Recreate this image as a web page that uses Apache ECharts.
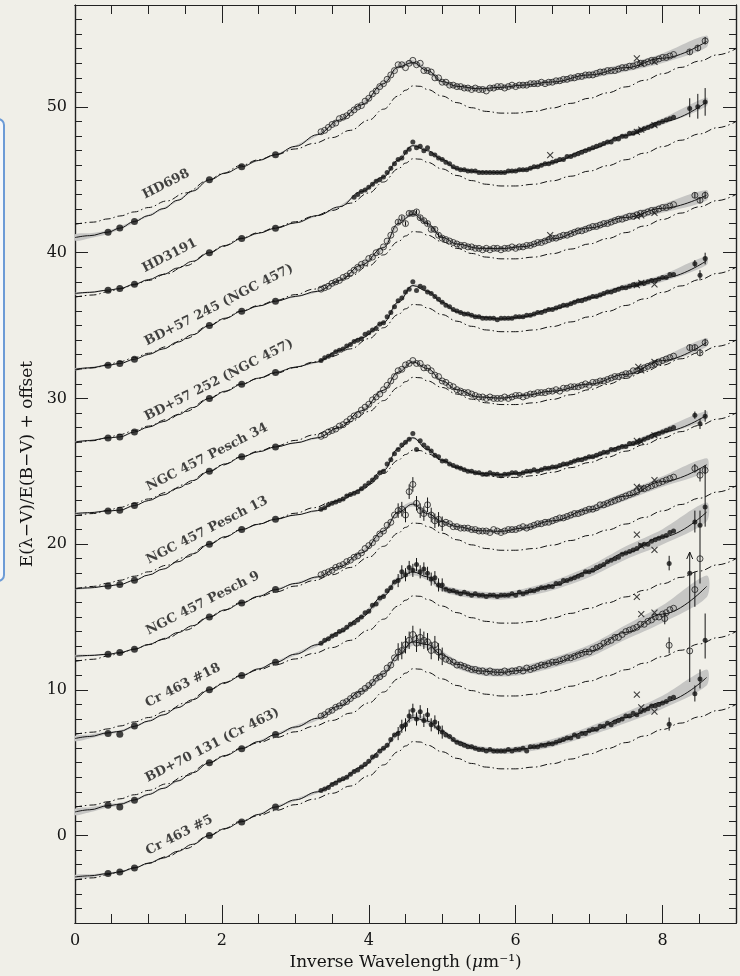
<!DOCTYPE html>
<html>
<head>
<meta charset="utf-8">
<title>Extinction curves</title>
<script src="https://cdn.jsdelivr.net/npm/echarts@6/dist/echarts.min.js"></script>
<style>
  html, body { margin: 0; padding: 0; background: #f0efe8; }
  #chart { width: 740px; height: 976px; }
</style>
</head>
<body>
<div id="chart"></div>
<script>
// stars, bottom to top
const STAR_NAMES = ['Cr 463 #5', 'BD+70 131 (Cr 463)', 'Cr 463 #18', 'NGC 457 Pesch 9', 'NGC 457 Pesch 13',
  'NGC 457 Pesch 34', 'BD+57 252 (NGC 457)', 'BD+57 245 (NGC 457)', 'HD3191', 'HD698']
const OFFSETS = [0, 5, 10, 15, 20, 25, 30, 35, 40, 45]
const OPEN_MARKER = [false, true, false, true, false, true, false, true, false, true]
const LABEL_X = [1.42, 1.87, 1.47, 1.74, 1.80, 1.80, 1.96, 1.96, 1.29, 1.24]
const LABEL_DY = [0.02, 1.2, 0.3, 0.94, 0.95, 0.96, 1.25, 1.4, -0.2, -0.3]

// photometry (JHK, V, B, U)
const PHOT_X = [0.45, 0.61, 0.81, 1.83, 2.27, 2.73]
const PHOT_Y = [
  [-2.61, -2.5, -2.22, 0, 0.93, 1.96],
  [-2.92, -3.04, -2.58, 0, 0.95, 1.93],
  [-3.0, -3.05, -2.48, 0, 0.98, 1.89],
  [-2.56, -2.44, -2.21, 0, 0.96, 1.88],
  [-2.87, -2.77, -2.48, 0, 1.0, 1.71],
  [-2.72, -2.67, -2.35, 0, 0.99, 1.67],
  [-2.71, -2.64, -2.3, 0, 0.97, 1.78],
  [-2.72, -2.6, -2.31, 0, 0.98, 1.67],
  [-2.57, -2.46, -2.16, 0, 0.97, 1.68],
  [-3.59, -3.31, -2.86, 0, 0.9, 1.73]
]

// fitted curves and their uncertainty (half width)
const FIT_X = [0, 0.2, 0.45, 0.61, 0.81, 1.0, 1.2, 1.4, 1.6, 1.83, 2.05, 2.27, 2.5, 2.73,
  3.0, 3.3, 3.6, 3.9, 4.2, 4.4, 4.6, 4.8, 5.0, 5.2, 5.5, 5.8, 6.1, 6.5, 7.0, 7.5, 8.0, 8.6]
const FIT_Y = [
  [-2.84, -2.76, -2.61, -2.5, -2.22, -1.9, -1.54, -1.08, -0.6, 0, 0.49, 0.95, 1.45, 1.96,
   2.45, 3.0, 3.75, 4.7, 5.95, 7.1, 8.1, 7.85, 7.15, 6.45, 5.95, 5.8, 5.95, 6.35, 7.15, 8.1, 9.15, 10.85],
  [-3.38, -3.23, -2.95, -2.85, -2.55, -2.18, -1.76, -1.25, -0.69, 0, 0.5, 0.97, 1.45, 1.93,
   2.45, 3.05, 3.9, 4.9, 6.1, 7.4, 8.3, 8.1, 7.4, 6.75, 6.3, 6.2, 6.35, 6.85, 7.65, 8.95, 10.2, 12.1],
  [-3.34, -3.2, -2.95, -2.85, -2.5, -2.14, -1.72, -1.22, -0.68, 0, 0.51, 0.98, 1.44, 1.89,
   2.45, 3.1, 3.95, 5.0, 6.45, 7.6, 8.1, 7.75, 7.0, 6.7, 6.5, 6.45, 6.65, 7.15, 8.1, 9.4, 10.5, 12.2],
  [-2.69, -2.64, -2.56, -2.44, -2.21, -1.89, -1.53, -1.07, -0.6, 0, 0.5, 0.96, 1.42, 1.88,
   2.3, 2.75, 3.45, 4.4, 5.9, 7.2, 7.75, 7.1, 6.55, 6.2, 5.92, 5.88, 6.1, 6.6, 7.35, 8.3, 9.3, 10.45],
  [-3.07, -3.0, -2.87, -2.77, -2.48, -2.12, -1.71, -1.21, -0.67, 0, 0.52, 1.0, 1.37, 1.71,
   2.0, 2.3, 3.0, 3.75, 5.05, 6.55, 7.3, 6.5, 5.75, 5.25, 4.85, 4.78, 4.9, 5.25, 5.95, 6.75, 7.7, 8.85],
  [-2.9, -2.84, -2.72, -2.67, -2.35, -2.01, -1.62, -1.15, -0.64, 0, 0.51, 0.99, 1.34, 1.67,
   1.95, 2.3, 3.0, 4.15, 5.56, 6.8, 7.5, 7.05, 6.2, 5.6, 5.1, 5.02, 5.2, 5.5, 5.98, 6.65, 7.6, 8.85],
  [-2.99, -2.89, -2.71, -2.64, -2.3, -1.97, -1.59, -1.12, -0.63, 0, 0.5, 0.97, 1.39, 1.78,
   2.15, 2.5, 3.3, 4.15, 5.2, 6.6, 7.75, 7.35, 6.6, 5.95, 5.6, 5.45, 5.6, 6.15, 6.9, 7.65, 8.25, 9.45],
  [-3.0, -2.9, -2.72, -2.6, -2.31, -1.98, -1.6, -1.13, -0.63, 0, 0.51, 0.98, 1.34, 1.67,
   2.0, 2.35, 3.1, 4.15, 5.35, 7.0, 7.65, 7.0, 6.05, 5.6, 5.3, 5.28, 5.42, 5.95, 6.7, 7.42, 8.05, 8.95],
  [-2.8, -2.72, -2.57, -2.46, -2.16, -1.85, -1.49, -1.05, -0.59, 0, 0.5, 0.97, 1.34, 1.68,
   2.05, 2.55, 3.15, 4.2, 5.2, 6.35, 7.35, 7.0, 6.4, 5.75, 5.55, 5.5, 5.68, 6.2, 7.1, 8.05, 9.0, 10.35],
  [-3.96, -3.83, -3.59, -3.31, -2.86, -2.45, -1.98, -1.4, -0.77, 0, 0.47, 0.9, 1.33, 1.73,
   2.3, 3.1, 4.1, 5.15, 6.6, 7.75, 8.05, 7.5, 6.75, 6.42, 6.25, 6.35, 6.5, 6.72, 7.2, 7.7, 8.35, 9.5]
]
const BAND = [
  [0.14, 0.11, 0.08, 0.07, 0.05, 0.04, 0.03, 0.02, 0.01, 0, 0.015, 0.03, 0.045, 0.06,
   0.08, 0.1, 0.12, 0.14, 0.16, 0.18, 0.2, 0.2, 0.2, 0.2, 0.2, 0.21, 0.23, 0.27, 0.32, 0.38, 0.45, 0.55],
  [0.22, 0.17, 0.12, 0.1, 0.08, 0.06, 0.05, 0.04, 0.02, 0, 0.015, 0.03, 0.05, 0.07,
   0.1, 0.13, 0.16, 0.19, 0.22, 0.25, 0.27, 0.28, 0.28, 0.28, 0.28, 0.29, 0.31, 0.35, 0.42, 0.5, 0.6, 0.75],
  [0.18, 0.14, 0.1, 0.08, 0.06, 0.05, 0.04, 0.03, 0.015, 0, 0.015, 0.03, 0.045, 0.06,
   0.09, 0.12, 0.15, 0.18, 0.2, 0.22, 0.24, 0.24, 0.24, 0.24, 0.25, 0.26, 0.28, 0.32, 0.38, 0.45, 0.53, 0.65],
  [0.08, 0.06, 0.05, 0.04, 0.03, 0.025, 0.02, 0.015, 0.01, 0, 0.01, 0.02, 0.03, 0.04,
   0.06, 0.08, 0.1, 0.12, 0.14, 0.15, 0.16, 0.16, 0.15, 0.15, 0.15, 0.16, 0.18, 0.21, 0.25, 0.3, 0.36, 0.45],
  [0.05, 0.045, 0.04, 0.03, 0.02, 0.02, 0.02, 0.015, 0.01, 0, 0.005, 0.01, 0.015, 0.02,
   0.03, 0.05, 0.06, 0.07, 0.08, 0.09, 0.09, 0.09, 0.08, 0.08, 0.08, 0.09, 0.1, 0.12, 0.15, 0.18, 0.22, 0.28],
  [0.06, 0.05, 0.04, 0.03, 0.03, 0.025, 0.02, 0.015, 0.01, 0, 0.005, 0.01, 0.015, 0.02,
   0.04, 0.05, 0.07, 0.08, 0.09, 0.1, 0.1, 0.1, 0.09, 0.09, 0.09, 0.1, 0.11, 0.13, 0.16, 0.2, 0.24, 0.3],
  [0.06, 0.05, 0.04, 0.03, 0.03, 0.025, 0.02, 0.015, 0.01, 0, 0.005, 0.01, 0.015, 0.02,
   0.04, 0.05, 0.07, 0.08, 0.09, 0.1, 0.1, 0.1, 0.09, 0.09, 0.09, 0.1, 0.11, 0.13, 0.16, 0.2, 0.24, 0.3],
  [0.08, 0.065, 0.05, 0.04, 0.03, 0.025, 0.02, 0.015, 0.01, 0, 0.005, 0.01, 0.02, 0.03,
   0.05, 0.07, 0.09, 0.11, 0.12, 0.13, 0.14, 0.14, 0.13, 0.13, 0.13, 0.14, 0.15, 0.18, 0.22, 0.26, 0.3, 0.36],
  [0.06, 0.05, 0.04, 0.04, 0.03, 0.025, 0.02, 0.015, 0.01, 0, 0.005, 0.01, 0.015, 0.02,
   0.03, 0.05, 0.06, 0.07, 0.08, 0.08, 0.09, 0.09, 0.08, 0.08, 0.08, 0.09, 0.1, 0.12, 0.15, 0.18, 0.22, 0.3],
  [0.22, 0.17, 0.12, 0.1, 0.08, 0.07, 0.06, 0.05, 0.04, 0, 0.01, 0.02, 0.03, 0.04,
   0.06, 0.08, 0.1, 0.12, 0.13, 0.14, 0.15, 0.15, 0.15, 0.15, 0.15, 0.16, 0.17, 0.2, 0.24, 0.28, 0.33, 0.4]
]

// average Galactic curve (dash-dot), same for every star
const BASE_X = [0, 0.25, 0.45, 0.61, 0.81, 1.0, 1.25, 1.5, 1.83, 2.0, 2.27, 2.5, 2.73, 3.0, 3.25, 3.5, 3.75, 4.0, 4.2, 4.4, 4.5, 4.6, 4.7, 4.8,
  5.0, 5.2, 5.4, 5.6, 5.8, 6.0, 6.25, 6.5, 6.75, 7.0, 7.25, 7.5, 7.75, 8.0, 8.25, 8.5, 8.75, 9.0]
const BASE_Y = [-3.05, -2.9, -2.68, -2.48, -2.2, -1.9, -1.45, -0.9, 0, 0.42, 1.0, 1.38, 1.72, 2.12, 2.5, 2.9, 3.4, 4.1, 4.85, 5.75, 6.15, 6.45, 6.42, 6.2,
  5.75, 5.3, 4.95, 4.7, 4.58, 4.58, 4.7, 4.93, 5.25, 5.6, 5.97, 6.38, 6.83, 7.28, 7.72, 8.15, 8.58, 9.0]

// IUE spectra
const UV_X = [
  3.35, 3.40, 3.45, 3.50, 3.55, 3.60, 3.65, 3.70, 3.75, 3.80,
  3.85, 3.90, 3.95, 4.00, 4.05, 4.10, 4.15, 4.20, 4.25, 4.30,
  4.35, 4.40, 4.45, 4.50, 4.55, 4.60, 4.65, 4.70, 4.75, 4.80,
  4.85, 4.90, 4.95, 5.00, 5.05, 5.10, 5.15, 5.20, 5.25, 5.30,
  5.35, 5.40, 5.45, 5.50, 5.55, 5.60, 5.65, 5.70, 5.75, 5.80,
  5.85, 5.90, 5.95, 6.00, 6.05, 6.10, 6.15, 6.20, 6.25, 6.30,
  6.35, 6.40, 6.45, 6.50, 6.55, 6.60, 6.65, 6.70, 6.75, 6.80,
  6.85, 6.90, 6.95, 7.00, 7.05, 7.10, 7.15, 7.20, 7.25, 7.30,
  7.35, 7.40, 7.45, 7.50, 7.55, 7.60, 7.65, 7.70, 7.75, 7.80,
  7.85, 7.90, 7.95, 8.00, 8.05, 8.10, 8.15
]
const UV_Y = [
  [3.1, 3.2, 3.3, 3.5, 3.6, 3.8, 3.9, 4.0, 4.2, 4.4,
   4.5, 4.7, 4.9, 5.1, 5.4, 5.5, 5.8, 6.0, 6.2, 6.6,
   6.9, 7.0, 7.5, 7.6, 8.2, 8.6, 8.0, 8.5, 7.9, 8.3,
   7.6, 7.8, 7.4, 7.1, 6.9, 6.8, 6.6, 6.4, 6.3, 6.2,
   6.1, 6.1, 6.0, 5.9, 5.9, 5.8, 5.9, 5.8, 5.8, 5.8,
   5.8, 5.9, 5.8, 5.9, 5.9, 6.0, 5.8, 6.1, 6.1, 6.1,
   6.2, 6.2, 6.3, 6.3, 6.4, 6.5, 6.6, 6.7, 6.7, 6.9,
   6.8, 7.0, 7.0, 7.2, 7.3, 7.3, 7.5, 7.5, 7.7, 7.6,
   7.8, 7.9, 8.0, 8.2, 8.2, 8.4, 8.3, 8.5, 8.6, 8.7,
   8.9, 8.9, 9.0, 9.1, 9.2, 9.4, 9.5],
  [3.2, 3.3, 3.5, 3.6, 3.8, 3.9, 4.1, 4.2, 4.4, 4.6,
   4.7, 4.9, 5.1, 5.3, 5.5, 5.8, 5.9, 6.1, 6.5, 6.7,
   7.2, 7.6, 7.7, 8.1, 8.4, 8.8, 8.2, 8.6, 8.4, 8.3,
   7.7, 8.1, 7.6, 7.3, 7.1, 7.0, 6.9, 6.7, 6.7, 6.6,
   6.5, 6.4, 6.4, 6.3, 6.3, 6.2, 6.3, 6.2, 6.2, 6.2,
   6.3, 6.2, 6.3, 6.3, 6.4, 6.3, 6.5, 6.4, 6.5, 6.6,
   6.7, 6.7, 6.8, 6.9, 6.9, 7.0, 7.1, 7.2, 7.2, 7.3,
   7.4, 7.5, 7.6, 7.6, 7.8, 7.9, 8.0, 8.2, 8.3, 8.4,
   8.6, 8.6, 8.8, 9.0, 9.1, 9.2, 9.3, 9.5, 9.5, 9.7,
   9.8, 10.0, 10.0, 10.2, 10.3, 10.5, 10.6],
  [3.2, 3.4, 3.5, 3.7, 3.8, 4.0, 4.1, 4.3, 4.5, 4.6,
   4.8, 5.0, 5.3, 5.4, 5.8, 5.9, 6.3, 6.4, 6.8, 7.0,
   7.4, 7.5, 8.1, 7.9, 8.4, 8.2, 8.6, 8.1, 8.3, 8.0,
   7.6, 7.7, 7.2, 7.2, 6.9, 6.8, 6.8, 6.7, 6.6, 6.7,
   6.6, 6.5, 6.6, 6.5, 6.5, 6.4, 6.5, 6.5, 6.4, 6.5,
   6.5, 6.5, 6.6, 6.5, 6.7, 6.6, 6.7, 6.8, 6.8, 6.9,
   7.0, 7.0, 7.1, 7.1, 7.3, 7.3, 7.5, 7.5, 7.6, 7.7,
   7.8, 7.9, 8.1, 8.1, 8.2, 8.4, 8.5, 8.6, 8.8, 8.9,
   9.0, 9.1, 9.3, 9.4, 9.5, 9.6, 9.7, 9.9, 10.0, 10.0,
   10.2, 10.3, 10.4, 10.5, 10.6, 10.8, 10.9],
  [2.9, 3.0, 3.1, 3.2, 3.4, 3.5, 3.6, 3.8, 3.9, 4.1,
   4.2, 4.4, 4.7, 4.9, 5.1, 5.4, 5.7, 5.9, 6.3, 6.5,
   7.0, 7.3, 7.4, 7.0, 8.6, 9.1, 7.8, 7.3, 7.1, 7.7,
   7.0, 6.6, 6.7, 6.4, 6.5, 6.4, 6.2, 6.2, 6.1, 6.1,
   6.1, 6.0, 6.0, 5.9, 5.9, 5.9, 5.8, 6.0, 5.9, 5.8,
   5.9, 6.0, 6.0, 6.0, 6.1, 6.2, 6.1, 6.2, 6.3, 6.4,
   6.4, 6.5, 6.5, 6.6, 6.7, 6.8, 6.8, 6.9, 7.0, 7.1,
   7.1, 7.2, 7.3, 7.4, 7.4, 7.5, 7.7, 7.7, 7.8, 7.9,
   8.0, 8.1, 8.2, 8.3, 8.4, 8.5, 8.6, 8.8, 8.8, 8.9,
   9.0, 9.1, 9.2, 9.3, 9.4, 9.5, 9.6],
  [2.4, 2.5, 2.7, 2.8, 2.9, 3.0, 3.1, 3.3, 3.4, 3.5,
   3.6, 3.8, 4.0, 4.2, 4.4, 4.6, 4.9, 5.0, 5.5, 5.8,
   6.2, 6.5, 6.8, 7.0, 7.2, 7.6, 6.5, 7.1, 6.8, 6.6,
   6.4, 6.1, 6.0, 5.7, 5.7, 5.5, 5.4, 5.3, 5.2, 5.1,
   5.0, 5.0, 4.9, 4.9, 4.8, 4.8, 4.9, 4.8, 4.8, 4.7,
   4.8, 4.8, 4.9, 4.9, 4.8, 4.9, 5.0, 5.0, 5.1, 5.0,
   5.1, 5.2, 5.2, 5.3, 5.3, 5.4, 5.5, 5.5, 5.6, 5.7,
   5.8, 5.8, 5.9, 6.0, 6.0, 6.1, 6.2, 6.3, 6.3, 6.5,
   6.5, 6.6, 6.7, 6.7, 6.9, 6.9, 7.0, 7.1, 7.2, 7.3,
   7.4, 7.5, 7.6, 7.7, 7.8, 7.9, 8.0],
  [2.4, 2.5, 2.7, 2.8, 2.9, 3.1, 3.2, 3.4, 3.6, 3.8,
   3.9, 4.2, 4.4, 4.6, 4.9, 5.1, 5.3, 5.6, 5.9, 6.2,
   6.5, 6.9, 7.0, 7.3, 7.4, 7.6, 7.4, 7.4, 7.1, 7.1,
   6.9, 6.6, 6.5, 6.2, 6.1, 5.9, 5.8, 5.6, 5.5, 5.4,
   5.4, 5.3, 5.2, 5.1, 5.1, 5.0, 5.1, 5.0, 5.0, 5.0,
   5.1, 5.0, 5.1, 5.2, 5.2, 5.1, 5.2, 5.3, 5.3, 5.4,
   5.4, 5.4, 5.5, 5.5, 5.6, 5.5, 5.7, 5.7, 5.8, 5.8,
   5.8, 5.9, 6.0, 5.9, 6.1, 6.1, 6.2, 6.2, 6.3, 6.4,
   6.5, 6.5, 6.6, 6.7, 6.7, 6.9, 6.9, 7.0, 7.1, 7.2,
   7.3, 7.4, 7.5, 7.6, 7.7, 7.8, 7.9],
  [2.6, 2.8, 2.9, 3.0, 3.2, 3.3, 3.4, 3.6, 3.7, 3.9,
   4.0, 4.1, 4.4, 4.5, 4.7, 4.8, 5.1, 5.2, 5.6, 5.9,
   6.3, 6.7, 6.9, 7.3, 7.5, 8.0, 7.4, 7.7, 7.6, 7.3,
   7.2, 7.0, 6.8, 6.6, 6.4, 6.3, 6.1, 6.0, 5.9, 5.8,
   5.8, 5.7, 5.6, 5.6, 5.5, 5.5, 5.5, 5.5, 5.4, 5.5,
   5.5, 5.5, 5.5, 5.6, 5.6, 5.6, 5.7, 5.7, 5.8, 5.9,
   5.9, 6.0, 6.1, 6.1, 6.2, 6.3, 6.4, 6.4, 6.5, 6.6,
   6.7, 6.7, 6.8, 6.9, 7.0, 7.0, 7.1, 7.2, 7.3, 7.3,
   7.4, 7.5, 7.6, 7.6, 7.7, 7.8, 7.8, 7.9, 7.9, 8.0,
   8.1, 8.1, 8.2, 8.3, 8.3, 8.5, 8.5],
  [2.5, 2.6, 2.7, 2.9, 3.0, 3.1, 3.3, 3.4, 3.6, 3.8,
   4.0, 4.2, 4.3, 4.6, 4.7, 5.0, 5.1, 5.4, 5.8, 6.2,
   6.6, 7.1, 7.4, 7.0, 7.7, 7.7, 7.8, 7.4, 7.2, 7.0,
   6.6, 6.6, 6.2, 6.0, 5.9, 5.8, 5.7, 5.6, 5.5, 5.5,
   5.4, 5.4, 5.3, 5.3, 5.2, 5.3, 5.2, 5.3, 5.3, 5.2,
   5.3, 5.3, 5.4, 5.3, 5.4, 5.4, 5.5, 5.5, 5.6, 5.7,
   5.7, 5.8, 5.9, 6.0, 6.0, 6.1, 6.2, 6.2, 6.3, 6.4,
   6.5, 6.5, 6.6, 6.7, 6.8, 6.8, 6.9, 7.0, 7.0, 7.1,
   7.2, 7.3, 7.3, 7.4, 7.5, 7.5, 7.6, 7.7, 7.7, 7.8,
   7.9, 7.9, 8.0, 8.1, 8.1, 8.2, 8.3],
  [null, null, null, null, null, null, null, null, null, 3.8,
   4.0, 4.2, 4.3, 4.5, 4.7, 4.9, 5.0, 5.2, 5.5, 5.8,
   6.1, 6.4, 6.5, 6.9, 7.1, 7.6, 7.2, 7.3, 7.0, 7.2,
   6.8, 6.7, 6.5, 6.4, 6.2, 6.1, 5.9, 5.8, 5.7, 5.7,
   5.6, 5.6, 5.6, 5.5, 5.5, 5.5, 5.5, 5.5, 5.5, 5.5,
   5.5, 5.6, 5.6, 5.6, 5.7, 5.7, 5.7, 5.8, 5.9, 5.9,
   6.0, 6.1, 6.1, 6.2, 6.3, 6.4, 6.4, 6.6, 6.6, 6.7,
   6.8, 6.9, 7.0, 7.1, 7.2, 7.3, 7.4, 7.5, 7.6, 7.6,
   7.8, 7.8, 8.0, 8.0, 8.2, 8.2, 8.3, 8.4, 8.5, 8.6,
   8.7, 8.8, 8.9, 9.0, 9.1, 9.2, 9.3],
  [3.3, 3.4, 3.6, 3.8, 3.9, 4.2, 4.3, 4.4, 4.6, 4.8,
   5.0, 5.1, 5.4, 5.6, 5.9, 6.1, 6.4, 6.6, 6.9, 7.2,
   7.5, 7.9, 7.9, 7.7, 8.0, 8.2, 7.9, 8.0, 7.5, 7.5,
   7.4, 7.0, 7.0, 6.7, 6.7, 6.5, 6.5, 6.4, 6.4, 6.3,
   6.3, 6.2, 6.3, 6.2, 6.2, 6.1, 6.3, 6.3, 6.4, 6.4,
   6.3, 6.4, 6.5, 6.4, 6.5, 6.5, 6.5, 6.6, 6.6, 6.6,
   6.7, 6.6, 6.7, 6.7, 6.8, 6.8, 6.9, 6.9, 7.0, 7.0,
   7.1, 7.1, 7.2, 7.2, 7.2, 7.3, 7.4, 7.4, 7.5, 7.5,
   7.5, 7.6, 7.7, 7.7, 7.8, 7.8, 7.9, 8.0, 8.0, 8.1,
   8.2, 8.2, 8.3, 8.4, 8.4, 8.5, 8.6]
]
// error bar half-width on the 2175 A bump points (4.4 - 5.0)
const BUMP_ERR = [0.45, 0.6, 0.45, 0.5, 0, 0, 0, 0.15, 0, 0]

// far-UV points: [x, y, low, high, arrow]
const FAR_POINTS = [
  [[8.09, 7.64, 7.2, 8.1], [8.44, 9.74, 9.2, 10.3], [8.51, 10.75, 10.1, 11.4], [8.58, 13.4, 12.15, 15.24]],
  [[8.03, 9.89, 9.5, 10.3], [8.09, 8.06, 7.5, 8.6], [8.37, 7.67, 5.54, 14.46, 1], [8.44, 11.88, 10.7, 13.1], [8.51, 14.0, 12.3, 17.3]],
  [[8.09, 8.67, 8.2, 9.2], [8.37, 8.0, null, null], [8.44, 11.52, 10.8, 12.3], [8.51, 11.3, null, null], [8.58, 12.55, 11.2, 15.4]],
  [[8.44, 10.19, 9.9, 10.5], [8.51, 9.73, 9.3, 10.2], [8.58, 10.07, 9.8, 10.4]],
  [[8.44, 8.85, 8.6, 9.1], [8.51, 8.27, 7.9, 8.6], [8.58, 8.78, 8.4, 9.2]],
  [[8.37, 8.49, 8.3, 8.7], [8.44, 8.49, 8.3, 8.7], [8.51, 8.13, 7.9, 8.4], [8.58, 8.83, 8.6, 9.1]],
  [[8.44, 9.25, 9.0, 9.5], [8.51, 8.45, 8.1, 8.8], [8.58, 9.6, 9.2, 10.0]],
  [[8.44, 8.94, 8.75, 9.15], [8.51, 8.6, 8.4, 8.8], [8.58, 8.94, 8.7, 9.2]],
  [[8.37, 9.9, 9.3, 10.6], [8.48, 10.01, 9.2, 10.9], [8.58, 10.35, 9.4, 11.3]],
  [[8.37, 8.78, 8.6, 8.95], [8.48, 9.05, 8.85, 9.25], [8.58, 9.54, 9.3, 9.8]]
]
// second data set, drawn as crosses
const CROSSES = [
  [[7.65, 9.67], [7.71, 8.8], [7.89, 8.5]],
  [[7.65, 11.38], [7.71, 10.2], [7.89, 10.3]],
  [[7.65, 10.66], [7.71, 9.9], [7.89, 9.6]],
  [[7.65, 8.93], [7.71, 8.86], [7.89, 9.39]],
  [[7.65, 7.09], [7.71, 7.02], [7.89, 7.47]],
  [[7.67, 7.16], [7.71, 6.93], [7.89, 7.5]],
  [[7.65, 7.77], [7.71, 7.93], [7.89, 7.82]],
  [[6.47, 6.2], [7.65, 7.5], [7.71, 7.57], [7.89, 7.73]],
  [[6.47, 6.69], [7.65, 8.3], [7.71, 8.45], [7.89, 8.75]],
  [[7.65, 8.33], [7.71, 7.98], [7.89, 8.1]]
]

const X_MAJOR = [0, 2, 4, 6, 8]
const X_MINOR = [0.5, 1, 1.5, 2.5, 3, 3.5, 4.5, 5, 5.5, 6.5, 7, 7.5, 8.5]
const Y_MAJOR = [0, 10, 20, 30, 40, 50]
const Y_MINOR = []
for (let v = -5; v <= 56; v++) if (v % 10 !== 0) Y_MINOR.push(v)

const INK = '#141414'
const SERIF = 'DejaVu Serif'

const pairs = (xs, ys, off) => {
  const out = []
  xs.forEach((x, k) => { if (ys[k] != null) out.push([x, ys[k] + off]) })
  return out
}

// grey uncertainty bands, one polygon per star
const bandSeries = {
  type: 'custom',
  xAxisIndex: 0,
  yAxisIndex: 0,
  silent: true,
  z: 1,
  data: STAR_NAMES.map((n, i) => [i]),
  encode: { x: 0 },
  renderItem: (params, api) => {
    const i = api.value(0)
    const off = OFFSETS[i]
    const upper = FIT_X.map((x, k) => api.coord([x, off + FIT_Y[i][k] + BAND[i][k]]))
    const lower = FIT_X.map((x, k) => api.coord([x, off + FIT_Y[i][k] - BAND[i][k]])).reverse()
    return {
      type: 'polygon',
      shape: { points: upper.concat(lower), smooth: 0.3 },
      style: { fill: '#c6c6c4', stroke: null }
    }
  }
}

const errorBars = {
  type: 'custom',
  xAxisIndex: 0,
  yAxisIndex: 0,
  z: 4,
  silent: true,
  renderItem: (params, api) => {
    const a = api.coord([api.value(0), api.value(1)])
    const b = api.coord([api.value(0), api.value(2)])
    const children = [{
      type: 'line',
      shape: { x1: a[0], y1: a[1], x2: b[0], y2: b[1] },
      style: { stroke: INK, lineWidth: 1 }
    }]
    if (api.value(3)) {
      children.push({
        type: 'polyline',
        shape: { points: [[b[0] - 3, b[1] + 7], [b[0], b[1]], [b[0] + 3, b[1] + 7]] },
        style: { stroke: INK, lineWidth: 1, fill: null }
      })
    }
    return { type: 'group', children }
  },
  encode: { x: 0, y: [1, 2] },
  data: []
}

const series = [bandSeries]
const labelData = []

STAR_NAMES.forEach((name, i) => {
  const off = OFFSETS[i]
  const smoothLine = { type: 'line', symbol: 'none', smooth: 0.4, smoothMonotone: 'x', silent: true, xAxisIndex: 0, yAxisIndex: 0 }

  // dash-dot average curve
  series.push(Object.assign({}, smoothLine, {
    data: pairs(BASE_X, BASE_Y, off),
    lineStyle: { color: INK, width: 1, type: [7, 3, 1.5, 3] },
    z: 2
  }))
  // fit
  series.push(Object.assign({}, smoothLine, {
    data: pairs(FIT_X, FIT_Y[i], off),
    lineStyle: { color: INK, width: 1 },
    z: 3
  }))

  const pointStyle = OPEN_MARKER[i]
    ? { color: 'rgba(0,0,0,0.07)', borderColor: '#222', borderWidth: 1 }
    : { color: INK }
  const pointSize = OPEN_MARKER[i] ? 6 : 5

  series.push({
    type: 'scatter', silent: true, z: 5,
    symbolSize: pointSize, itemStyle: pointStyle,
    data: pairs(UV_X, UV_Y[i], off).concat(FAR_POINTS[i].map(p => [p[0], p[1] + off]))
  })
  series.push({
    type: 'scatter', silent: true, z: 5,
    symbolSize: 7, itemStyle: { color: INK },
    data: pairs(PHOT_X, PHOT_Y[i], off)
  })
  series.push({
    type: 'scatter', silent: true, z: 5,
    symbol: 'path://M0 0L10 10M10 0L0 10', symbolSize: 6,
    itemStyle: { color: 'none', borderColor: INK, borderWidth: 1.1 },
    data: CROSSES[i].map(p => [p[0], p[1] + off])
  })

  if (BUMP_ERR[i] > 0) {
    UV_X.forEach((x, k) => {
      const y = UV_Y[i][k]
      if (y != null && x >= 4.39 && x <= 5.01) {
        errorBars.data.push([x, y + off - BUMP_ERR[i], y + off + BUMP_ERR[i], 0])
      }
    })
  }
  FAR_POINTS[i].forEach(p => {
    if (p[2] != null) errorBars.data.push([p[0], p[2] + off, p[3] + off, p[4] ? 1 : 0])
  })

  labelData.push({ value: [LABEL_X[i], off + LABEL_DY[i]], name })
})

series.push(errorBars)
series.push({
  type: 'scatter',
  silent: true,
  symbolSize: 0,
  z: 6,
  data: labelData,
  label: {
    show: true,
    position: 'inside',
    formatter: p => p.name,
    rotate: 27,
    fontFamily: SERIF,
    fontWeight: 'bold',
    fontSize: 13,
    color: INK
  }
})

const axisLine = { show: true, onZero: false, lineStyle: { color: '#222', width: 1.2 } }
const tickStyle = { color: '#222', width: 1 }

const xAxis = (position, values, len, labels) => ({
  type: 'value', min: 0, max: 9, position,
  axisLine,
  splitLine: { show: false },
  axisTick: { show: true, inside: true, length: len, customValues: values, lineStyle: tickStyle },
  axisLabel: labels
    ? { show: true, customValues: values, margin: 10, fontFamily: SERIF, fontSize: 16, color: INK }
    : { show: false }
})
const yAxis = (position, values, len, labels) => ({
  type: 'value', min: -6, max: 57, position,
  axisLine,
  splitLine: { show: false },
  axisTick: { show: true, inside: true, length: len, customValues: values, lineStyle: tickStyle },
  axisLabel: labels
    ? { show: true, customValues: values, margin: 8, fontFamily: SERIF, fontSize: 16, color: INK }
    : { show: false }
})

const xMain = xAxis('bottom', X_MAJOR, 18, true)
xMain.name = '{a|Inverse Wavelength (}{i|μ}{a|m⁻¹)}'
xMain.nameLocation = 'middle'
xMain.nameGap = 29
xMain.nameTextStyle = {
  rich: {
    a: { fontFamily: SERIF, fontSize: 17, color: INK },
    i: { fontFamily: SERIF, fontSize: 17, fontStyle: 'italic', color: INK }
  }
}
const yMain = yAxis('left', Y_MAJOR, 13, true)
yMain.name = 'E(λ−V)/E(B−V) + offset'
yMain.nameLocation = 'middle'
yMain.nameGap = 39
yMain.nameTextStyle = { fontFamily: SERIF, fontSize: 17, color: INK }

const chart = echarts.init(document.getElementById('chart'))
chart.setOption({
  backgroundColor: '#f0efe8',
  animation: false,
  grid: { left: 75, right: 4, top: 5, bottom: 53, containLabel: false },
  graphic: [{
    type: 'rect',
    left: -10,
    top: 118,
    shape: { width: 13, height: 462, r: 6 },
    style: { fill: '#f5f7fa', stroke: '#6c9bd6', lineWidth: 2 },
    z: -1
  }],
  xAxis: [
    xMain,
    xAxis('bottom', X_MINOR, 9, false),
    xAxis('top', X_MAJOR, 18, false),
    xAxis('top', X_MINOR, 9, false)
  ],
  yAxis: [
    yMain,
    yAxis('left', Y_MINOR, 7, false),
    yAxis('right', Y_MAJOR, 13, false),
    yAxis('right', Y_MINOR, 7, false)
  ],
  series
})
</script>
</body>
</html>
